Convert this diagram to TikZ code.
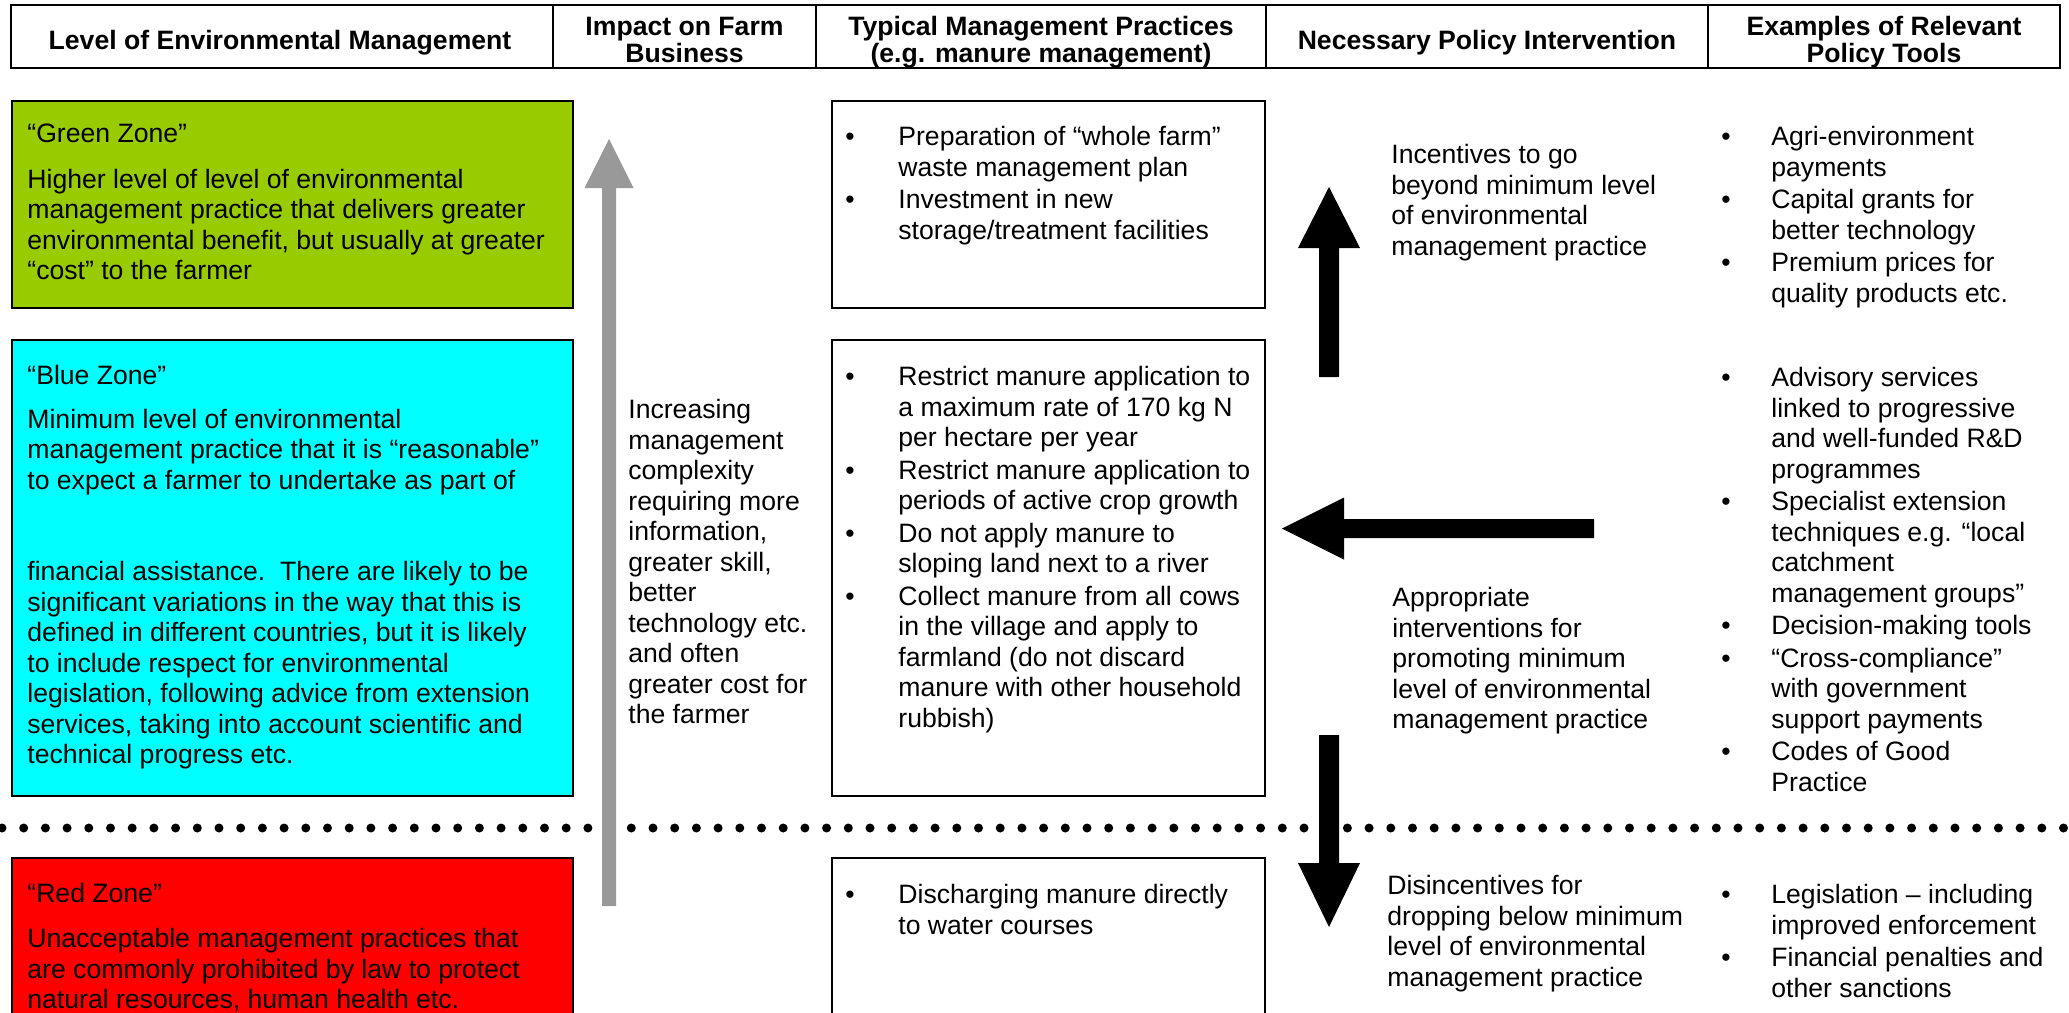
\documentclass[tikz,border=0pt]{standalone}
\usepackage{fontspec}
\setmainfont{Liberation Sans}
\definecolor{zgreen}{RGB}{153,204,0}
\definecolor{zblue}{RGB}{0,255,255}
\definecolor{zred}{RGB}{255,0,0}
\definecolor{arrgray}{RGB}{153,153,153}
\newcommand\bitm[1]{\makebox[26.5pt][l]{•}#1}
\newcommand\bcnt[1]{\hspace*{26.5pt}#1}
\newcommand\eitm[1]{\makebox[25pt][l]{•}#1}
\newcommand\ecnt[1]{\hspace*{25pt}#1}
\tikzset{
  boxline/.style={draw=black, line width=1.2pt},
  bodytext/.style={anchor=north west, inner sep=0pt, align=left, font=\fontsize{13.3pt}{15.25pt}\selectfont, execute at begin node={\rule{0pt}{11pt}}},
  headtext/.style={anchor=base, inner sep=0pt, align=center, font=\bfseries\fontsize{13.3pt}{13.5pt}\selectfont},
  dotline/.style={line width=4.5pt, line cap=round, dash pattern=on 0pt off 10.85pt},
}
\begin{document}
\begin{tikzpicture}[x=0.5pt,y=-0.5pt]
\useasboundingbox (0,0) rectangle (2069,1013);
\clip (0,0) rectangle (2069,1013);
\fill[white] (0,0) rectangle (2069,1013);

% header row
\draw[boxline] (11,5) rectangle (2060,68);
\draw[boxline] (553,5) -- (553,68);
\draw[boxline] (816,5) -- (816,68);
\draw[boxline] (1266,5) -- (1266,68);
\draw[boxline] (1708,5) -- (1708,68);
\node[headtext] (h1) at (280,49) {Level of Environmental Management};
\node[headtext] (h2) at (684.5,62) {Impact on Farm\\Business};
\node[headtext] (h3) at (1041,62) {Typical Management Practices\\(e.g. manure management)};
\node[headtext] (h4) at (1487,49) {Necessary Policy Intervention};
\node[headtext] (h5) at (1884,62) {Examples of Relevant\\Policy Tools};

% dotted separator
\coordinate (dl) at (2,828);
\coordinate (dr) at (2080,828);
\draw[dotline] (dl) -- (dr);

% zone boxes
\draw[boxline, fill=zgreen] (12,101) rectangle (573,308);
\draw[boxline, fill=zblue] (12,340) rectangle (573,796);
\draw[boxline, fill=zred] (12,858) rectangle (573,1040);

\node[bodytext] (green) at (27,124) {“Green Zone”\\[7.5pt]
Higher level of level of environmental\\
management practice that delivers greater\\
environmental benefit, but usually at greater\\
“cost” to the farmer};

\node[bodytext] (blue) at (27,365) {“Blue Zone”\\[6.5pt]
Minimum level of environmental\\
management practice that it is “reasonable”\\
to expect a farmer to undertake as part of\\[30.5pt]
financial assistance.\ \ There are likely to be\\
significant variations in the way that this is\\
defined in different countries, but it is likely\\
to include respect for environmental\\
legislation, following advice from extension\\
services, taking into account scientific and\\
technical progress etc.};

\node[bodytext] (red) at (27,883) {“Red Zone”\\[7.25pt]
Unacceptable management practices that\\
are commonly prohibited by law to protect\\
natural resources, human health etc.};

% gray arrow
\fill[arrgray] (602,906) -- (602,188) -- (584.5,188) -- (609,139) -- (633.5,188) -- (616,188) -- (616,906) -- cycle;

\node[bodytext] (impact) at (628,399) {Increasing\\
management\\
complexity\\
requiring more\\
information,\\
greater skill,\\
better\\
technology etc.\\
and often\\
greater cost for\\
the farmer};

% practice boxes
\draw[boxline, fill=white] (832,101) rectangle (1265,308);
\draw[boxline, fill=white] (832,340) rectangle (1265,796);
\draw[boxline, fill=white] (832,858) rectangle (1265,1040);

\node[bodytext] (prac1) at (845,126) {\bitm{Preparation of “whole farm”}\\
\bcnt{waste management plan}\\[1pt]
\bitm{Investment in new}\\
\bcnt{storage/treatment facilities}};

\node[bodytext] (prac2) at (845,366) {\bitm{Restrict manure application to}\\
\bcnt{a maximum rate of 170 kg N}\\
\bcnt{per hectare per year}\\[1pt]
\bitm{Restrict manure application to}\\
\bcnt{periods of active crop growth}\\[1pt]
\bitm{Do not apply manure to}\\
\bcnt{sloping land next to a river}\\[1pt]
\bitm{Collect manure from all cows}\\
\bcnt{in the village and apply to}\\
\bcnt{farmland (do not discard}\\
\bcnt{manure with other household}\\
\bcnt{rubbish)}};

\node[bodytext] (prac3) at (845,884) {\bitm{Discharging manure directly}\\
\bcnt{to water courses}};

% black arrows
\fill[black] (1319,377) -- (1319,248) -- (1298,248) -- (1329,187) -- (1360,248) -- (1339,248) -- (1339,377) -- cycle;
\fill[black] (1594,519) -- (1344,519) -- (1344,497.5) -- (1282,528.5) -- (1344,559.5) -- (1344,538) -- (1594,538) -- cycle;
\fill[black] (1319,735) -- (1319,863) -- (1298,863) -- (1329,927) -- (1360,863) -- (1339,863) -- (1339,735) -- cycle;

\node[bodytext] (incent) at (1391,144) {Incentives to go\\
beyond minimum level\\
of environmental\\
management practice};

\node[bodytext] (approp) at (1392,587) {Appropriate\\
interventions for\\
promoting minimum\\
level of environmental\\
management practice};

\node[bodytext] (disinc) at (1387,875) {Disincentives for\\
dropping below minimum\\
level of environmental\\
management practice};

% examples
\node[bodytext] (ex1) at (1721,126) {\eitm{Agri-environment}\\
\ecnt{payments}\\[1pt]
\eitm{Capital grants for}\\
\ecnt{better technology}\\[1pt]
\eitm{Premium prices for}\\
\ecnt{quality products etc.}};

\node[bodytext] (ex2) at (1721,367) {\eitm{Advisory services}\\
\ecnt{linked to progressive}\\
\ecnt{and well-funded R\&D}\\
\ecnt{programmes}\\[1pt]
\eitm{Specialist extension}\\
\ecnt{techniques e.g. “local}\\
\ecnt{catchment}\\
\ecnt{management groups”}\\[1pt]
\eitm{Decision-making tools}\\[1pt]
\eitm{“Cross-compliance”}\\
\ecnt{with government}\\
\ecnt{support payments}\\[1pt]
\eitm{Codes of Good}\\
\ecnt{Practice}};

\node[bodytext] (ex3) at (1721,884) {\eitm{Legislation – including}\\
\ecnt{improved enforcement}\\[1pt]
\eitm{Financial penalties and}\\
\ecnt{other sanctions}};
\end{tikzpicture}
\end{document}
